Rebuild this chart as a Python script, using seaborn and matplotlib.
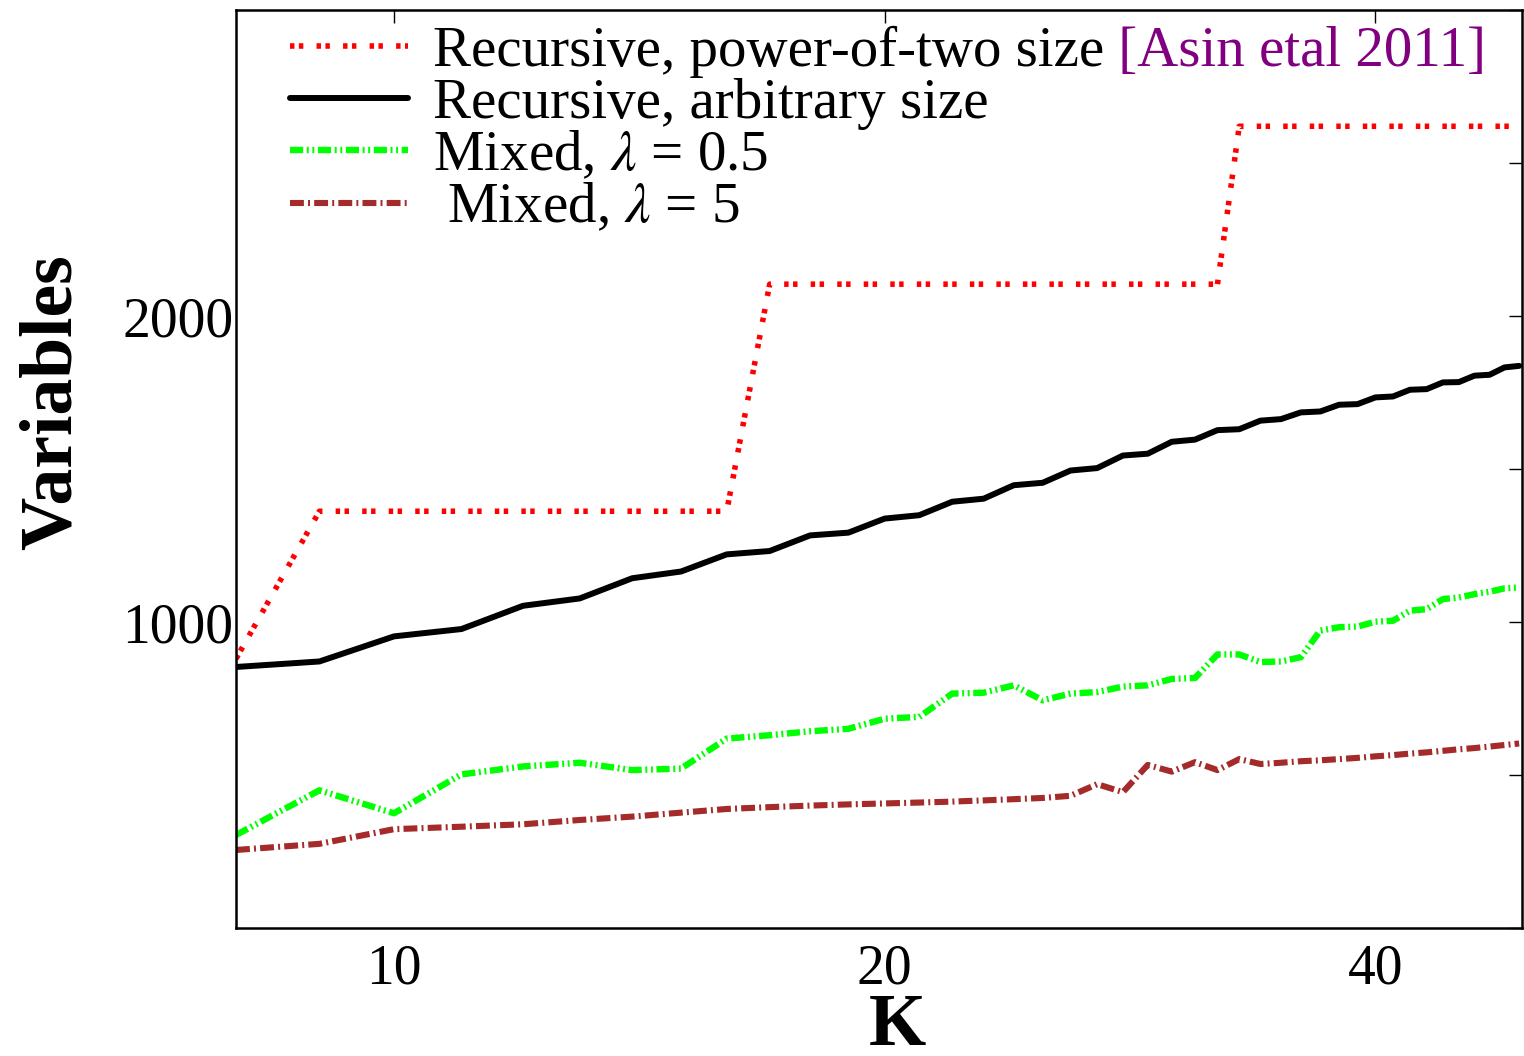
import matplotlib
matplotlib.use("Agg")
import matplotlib.pyplot as plt
import seaborn as sns
from matplotlib.ticker import FixedLocator, NullLocator, FixedFormatter

# ---------------- data ----------------
K = [8, 9, 10, 11, 12, 13, 14, 15, 16, 17, 18, 19, 20, 21, 22, 23, 24, 25, 26, 27, 28,
     29, 30, 31, 32, 33, 34, 35, 36, 37, 38, 39, 40, 41, 42, 43, 44, 45, 46, 47, 48, 49]

recursive_pow2 = [880, 1362, 1362, 1362, 1362, 1362, 1362, 1362, 1362,
                  2104, 2104, 2104, 2104, 2104, 2104, 2104, 2104,
                  2104, 2104, 2104, 2104, 2104, 2104, 2104, 2104,
                  2620, 2620, 2620, 2620, 2620, 2620, 2620, 2620, 2620,
                  2620, 2620, 2620, 2620, 2620, 2620, 2620, 2620]

recursive_arbitrary = [853, 871, 953, 977, 1053, 1077, 1143, 1165, 1221, 1232, 1283, 1292,
                       1338, 1349, 1393, 1403, 1447, 1455, 1495, 1503, 1544, 1550, 1589,
                       1596, 1627, 1630, 1658, 1663, 1685, 1688, 1710, 1712, 1734, 1737,
                       1759, 1761, 1783, 1784, 1805, 1808, 1832, 1837]

mixed_05 = [304, 450, 375, 502, 528, 540, 516, 521, 619, 630, 643, 651, 684, 690, 766, 769,
            793, 744, 766, 771, 789, 793, 814, 817, 894, 894, 869, 871, 885, 972, 983, 985,
            1001, 1004, 1037, 1042, 1075, 1080, 1091, 1099, 1110, 1113]

mixed_5 = [255, 275, 323, 331, 339, 353, 364, 377, 389, 395, 400, 404, 407, 410, 413, 417,
           421, 425, 432, 470, 444, 533, 511, 542, 516, 552, 536, 540, 545, 548, 552, 556,
           561, 565, 570, 574, 579, 584, 588, 593, 598, 603]

labels = ["Recursive, power-of-two size",
          "Recursive, arbitrary size",
          r"Mixed, $\lambda$ = 0.5",
          r" Mixed, $\lambda$ = 5"]
citation = " [Asin etal 2011]"

x_ticks = [10, 20, 40]
x_tick_labels = ["10", "20", "40"]
y_ticks = [0, 500, 1000, 1500, 2000, 2500, 3000]
y_tick_labels = ["", "", "1000", "", "2000", "", ""]

# ---------------- style ----------------
sns.set_style("white")
plt.rcParams["font.family"] = ["Liberation Serif", "DejaVu Serif"]
plt.rcParams["mathtext.fontset"] = "stix"
plt.rcParams["lines.scale_dashes"] = False
for key in ["text.color", "axes.labelcolor", "xtick.color", "ytick.color"]:
    plt.rcParams[key] = "black"

fig = plt.figure(figsize=(15.24, 10.56), dpi=100)
ax = fig.add_axes([0.15486, 0.12121, 0.84383, 0.86932])
ax.set_xscale("log")

series = [
    (recursive_pow2, "#ff0000", 4.0, (0, (3.2, 3.2, 3.2, 9.5))),
    (recursive_arbitrary, "#000000", 4.3, "-"),
    (mixed_05, "#00ff00", 4.6, (0, (9.5, 2.6, 1.4, 2.6, 1.4, 2.6))),
    (mixed_5, "#a52a2a", 4.4, (0, (10, 3, 1.4, 3))),
]
for vals, col, lw, ls in series:
    sns.lineplot(x=K, y=vals, ax=ax, color=col, linewidth=lw, linestyle=ls,
                 estimator=None, errorbar=None, sort=False)

ax.set_xlim(8, 49.2)
ax.set_ylim(0, 3000)

ax.xaxis.set_major_locator(FixedLocator(x_ticks))
ax.xaxis.set_major_formatter(FixedFormatter(x_tick_labels))
ax.xaxis.set_minor_locator(NullLocator())
ax.yaxis.set_major_locator(FixedLocator(y_ticks))
ax.yaxis.set_major_formatter(FixedFormatter(y_tick_labels))
ax.yaxis.set_minor_locator(NullLocator())

ax.tick_params(axis="both", which="both", direction="in", length=9.5, width=1.0,
               top=True, right=True, labelsize=40, colors="black")
ax.tick_params(axis="x", pad=11)
ax.tick_params(axis="y", pad=2)
for sp in ax.spines.values():
    sp.set_visible(True)
    sp.set_color("black")
    sp.set_linewidth(1.8)

ax.set_ylabel("Variables", fontsize=53, fontweight="bold", color="black")
ax.set_xlabel("K", fontsize=53, fontweight="bold", va="top", color="black")
ax.yaxis.set_label_coords(-0.116, 0.573)
ax.xaxis.set_label_coords(0.514, -0.071)

handles = ax.get_lines()[:4]
leg = ax.legend(handles, labels, loc="upper left", bbox_to_anchor=(0.042, 0.983),
                frameon=False, fontsize=41, handlelength=2.07, handletextpad=0.44,
                labelspacing=0.0, borderpad=0, borderaxespad=0)
for t in leg.get_texts():
    t.set_color("black")

fig.canvas.draw()
ax.annotate(citation, xy=(1, 0), xycoords=leg.get_texts()[0], va="bottom", ha="left",
            color="#800080", fontsize=41)

fig.savefig("out.png", dpi=100)
